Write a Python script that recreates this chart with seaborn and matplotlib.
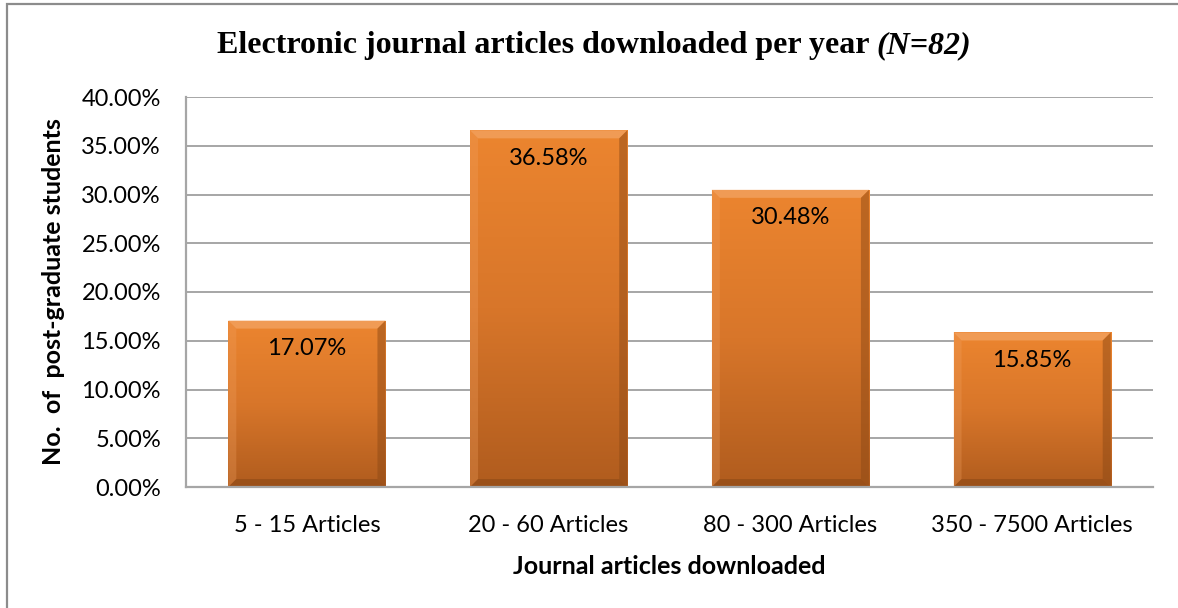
import numpy as np
import pandas as pd
import matplotlib
matplotlib.use("Agg")
import matplotlib.pyplot as plt
import seaborn as sns
from matplotlib.patches import Rectangle, Polygon
from matplotlib.colors import LinearSegmentedColormap

categories = ["5 - 15 Articles", "20 - 60 Articles", "80 - 300 Articles", "350 - 7500 Articles"]
values = [17.07, 36.58, 30.48, 15.85]
yticks = [0, 5, 10, 15, 20, 25, 30, 35, 40]

sns.set_theme(style="white")
plt.rcParams['font.family'] = ['Lato', 'DejaVu Sans']
plt.rcParams['text.color'] = 'black'
plt.rcParams['axes.labelcolor'] = 'black'
plt.rcParams['xtick.color'] = 'black'
plt.rcParams['ytick.color'] = 'black'

W, H = 1178, 608
fig = plt.figure(figsize=(W / 100, H / 100), dpi=100)
ax = fig.add_axes([186 / W, 1 - 487 / H, (1153 - 186) / W, (487 - 97) / H])

df = pd.DataFrame({"cat": categories, "val": values})
sns.barplot(data=df, x="cat", y="val", color="#E47F2A", width=0.65, ax=ax,
            saturation=1, edgecolor="none")

ax.set_ylim(0, 40)
ax.set_xlim(-0.5, 3.5)
ax.set_yticks(yticks)
ax.set_yticklabels([f"{t:.2f}%" for t in yticks], fontsize=17)
ax.tick_params(axis='y', length=0, pad=18)
ax.tick_params(axis='x', length=0, pad=20, labelsize=17)
ax.yaxis.grid(True, color="#A6A6A6", lw=1.4)
ax.set_axisbelow(True)
for s in ["top", "right"]:
    ax.spines[s].set_visible(False)
for s in ["left", "bottom"]:
    ax.spines[s].set_color("#A6A6A6")
    ax.spines[s].set_linewidth(1.6)

ax.set_xlabel("Journal articles downloaded", fontsize=18, fontweight="bold", labelpad=14)
ax.set_ylabel("No.  of  post-graduate students", fontsize=18, fontweight="bold", labelpad=12)

# gradient + bevel on bars
cmap = LinearSegmentedColormap.from_list("bar", ["#B05C1E", "#D8762A", "#EC852F"])
grad = np.linspace(0, 1, 256).reshape(-1, 1)
px_x = ax.get_window_extent().width / 4.0
px_y = ax.get_window_extent().height / 40.0
bev = 8
for p in list(ax.patches):
    x0, y0 = p.get_x(), p.get_y()
    w, h = p.get_width(), p.get_height()
    im = ax.imshow(grad, cmap=cmap, extent=[x0, x0 + w, y0, y0 + h], origin="lower",
                   aspect="auto", zorder=p.get_zorder() + 0.1)
    im.set_clip_path(p)
    bx, by = bev / px_x, bev / px_y
    x1, y1 = x0 + w, y0 + h
    z = p.get_zorder() + 0.2
    ax.add_patch(Polygon([(x0, y1), (x1, y1), (x1 - bx, y1 - by), (x0 + bx, y1 - by)],
                         closed=True, facecolor="#F2A25F", edgecolor="none", alpha=0.8, zorder=z))
    ax.add_patch(Polygon([(x1, y1), (x1, y0), (x1 - bx, y0 + by), (x1 - bx, y1 - by)],
                         closed=True, facecolor="#8E4A16", edgecolor="none", alpha=0.5, zorder=z))
    ax.add_patch(Polygon([(x0, y1), (x0, y0), (x0 + bx, y0 + by), (x0 + bx, y1 - by)],
                         closed=True, facecolor="#F0A060", edgecolor="none", alpha=0.3, zorder=z))
    ax.add_patch(Polygon([(x0, y0), (x1, y0), (x1 - bx, y0 + by), (x0 + bx, y0 + by)],
                         closed=True, facecolor="#7A3F12", edgecolor="none", alpha=0.4, zorder=z))

for i, v in enumerate(values):
    ax.annotate(f"{v:.2f}%", xy=(i, v), xytext=(0, -20), textcoords="offset points",
                ha="center", va="center", fontsize=17, color="black", zorder=10)

ax.set_xticks(range(len(categories)))
ax.set_xticklabels(categories)

# title: bold part + italic part
fig.canvas.draw()
r = fig.canvas.get_renderer()
t1 = fig.text(0, 1 - 46 / H, "Electronic journal articles downloaded per year ",
              fontsize=23, fontweight="bold", family="Liberation Serif", va="center", ha="left")
t2 = fig.text(0, 1 - 46 / H, "(N=82)", fontsize=23, fontweight="bold", style="italic",
              family="Liberation Serif", va="center", ha="left")
w1 = t1.get_window_extent(r).width
w2 = t2.get_window_extent(r).width
cx = 594
start = cx - (w1 + w2) / 2
t1.set_x(start / W)
t2.set_x((start + w1) / W)

# outer border
fig.add_artist(Rectangle((7 / W, -0.1), 1.2, 1.1 - 4 / H, transform=fig.transFigure,
                         fill=False, edgecolor="#8C8C8C", lw=1.6))

fig.savefig("out.png", dpi=100)
